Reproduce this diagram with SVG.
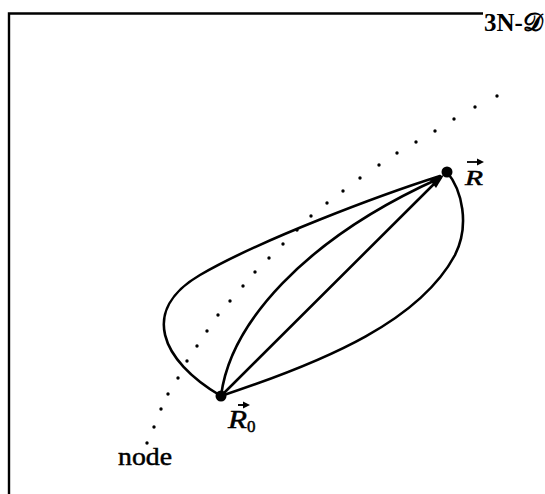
<svg xmlns="http://www.w3.org/2000/svg" width="545" height="494" viewBox="0 0 545 494">
<style>
.frame{fill:none;stroke:#000;stroke-width:2.4}
.edge{fill:none;stroke:#000;stroke-width:2.6;stroke-linecap:round}
.dot{fill:#000}
.lbl{font-family:"Liberation Serif","DejaVu Serif",serif;fill:#000}
.bold{stroke:#000;stroke-width:0.5}
</style>
<rect width="545" height="494" fill="#fff"/>
<g id="frame">
<path class="frame" d="M9,494 L9,13.5 L483,13.5"/>
<text class="lbl" x="484" y="31" font-size="25" font-weight="bold">3N-𝒟</text>
</g>
<g id="nodal-surface">
<g class="dot">
<circle cx="497" cy="96" r="1.7"/><circle cx="475" cy="107" r="1.7"/><circle cx="454" cy="119" r="1.7"/>
<circle cx="435" cy="131" r="1.7"/><circle cx="416" cy="142" r="1.7"/><circle cx="397" cy="153" r="1.7"/>
<circle cx="379" cy="165" r="1.7"/><circle cx="360" cy="178" r="1.7"/><circle cx="343" cy="191" r="1.7"/>
<circle cx="327" cy="203" r="1.7"/><circle cx="311" cy="216" r="1.7"/><circle cx="297" cy="230" r="1.7"/>
<circle cx="283" cy="244" r="1.7"/><circle cx="269" cy="258" r="1.7"/><circle cx="255" cy="272" r="1.7"/>
<circle cx="243" cy="286" r="1.7"/><circle cx="230" cy="301" r="1.7"/><circle cx="218" cy="315" r="1.7"/>
<circle cx="207" cy="331" r="1.7"/><circle cx="197" cy="346" r="1.7"/><circle cx="187" cy="361" r="1.7"/>
<circle cx="178" cy="378" r="1.7"/><circle cx="168" cy="394" r="1.7"/><circle cx="161" cy="409" r="1.7"/>
<circle cx="154" cy="427" r="1.7"/><circle cx="147" cy="443" r="1.7"/>
</g>
<text class="lbl bold" x="118" y="465" font-size="26" textLength="54" lengthAdjust="spacingAndGlyphs">node</text>
</g>
<g id="connectors">
<path class="edge" d="M221,396 C160,360 140,310 200,275 C260,240 380,195 440,176"/>
<path class="edge" d="M221,396 C230,325 302,240 440,178"/>
<path class="edge" d="M221,396 L440,178"/>
<path class="edge" d="M221,396 C330,360 420,320 455,255 C470,225 462,190 447,172"/>
<polygon class="dot" points="444,175 429,179 436,188"/>
</g>
<g id="R">
<circle class="dot" cx="447" cy="172" r="5.5"/>
<text class="lbl bold" x="465" y="185" font-size="20" font-style="italic" textLength="18" lengthAdjust="spacingAndGlyphs">R</text>
<path d="M467,162 L479,162" stroke="#000" stroke-width="1.8"/>
<polygon class="dot" points="484,162 477,158.5 477,165.5"/>
</g>
<g id="R0">
<circle class="dot" cx="221" cy="396" r="5.5"/>
<text class="lbl bold" x="228" y="428" font-size="25" font-style="italic" textLength="19" lengthAdjust="spacingAndGlyphs">R</text>
<text class="lbl bold" x="247" y="432" font-size="17">0</text>
<path d="M238,405 L245,405" stroke="#000" stroke-width="1.9"/>
<polygon class="dot" points="250,405 243,401.5 243,408.5"/>
</g>
</svg>
